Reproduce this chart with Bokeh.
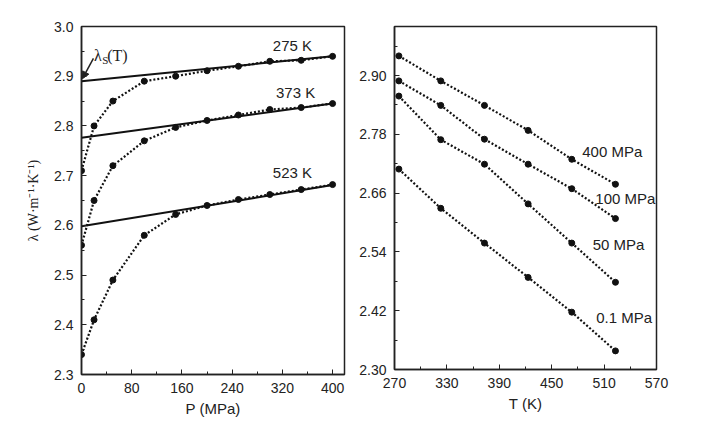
from bokeh.plotting import figure
from bokeh.layouts import row
from bokeh.models import FixedTicker, Range1d, Label, Arrow, NormalHead, NumeralTickFormatter
from bokeh.embed import file_html
from bokeh.resources import INLINE

# ---- data: left panel (lambda vs P) ----
P = [0, 20, 50, 100, 150, 200, 250, 300, 350, 400]
lam_275K = [2.71, 2.80, 2.85, 2.89, 2.90, 2.911, 2.92, 2.93, 2.932, 2.94]
lam_373K = [2.56, 2.65, 2.72, 2.77, 2.797, 2.811, 2.822, 2.833, 2.837, 2.845]
lam_523K = [2.34, 2.41, 2.49, 2.58, 2.622, 2.64, 2.652, 2.662, 2.672, 2.682]
fit_P = [0, 400]
fit_275K = [2.89, 2.94]
fit_373K = [2.776, 2.845]
fit_523K = [2.598, 2.681]
left_labels = ["275 K", "373 K", "523 K"]

# ---- data: right panel (lambda vs T) ----
T = [275, 323, 373, 423, 473, 523]
lam_400MPa = [2.94, 2.889, 2.839, 2.788, 2.729, 2.678]
lam_100MPa = [2.889, 2.839, 2.770, 2.719, 2.669, 2.608]
lam_50MPa = [2.858, 2.769, 2.719, 2.638, 2.558, 2.478]
lam_01MPa = [2.709, 2.629, 2.558, 2.488, 2.417, 2.338]
right_labels = ["400 MPa", "100 MPa", "50 MPa", "0.1 MPa"]

left_xticks = [0, 80, 160, 240, 320, 400]
left_yticks = [2.3, 2.4, 2.5, 2.6, 2.7, 2.8, 2.9, 3.0]
right_xticks = [270, 330, 390, 450, 510, 570]
right_yticks = [2.30, 2.42, 2.54, 2.66, 2.78, 2.90]

SANS = "Liberation Sans"
SERIF = "Liberation Serif"


def style(p):
    p.outline_line_color = "#222222"
    p.outline_line_width = 1.5
    p.grid.visible = False
    p.background_fill_color = "white"
    p.border_fill_color = "white"
    for ax in (p.xaxis, p.yaxis):
        ax.axis_line_width = 1.5
        ax.axis_line_color = "#222222"
        ax.major_tick_in = 5
        ax.major_tick_out = 0
        ax.minor_tick_in = 3
        ax.minor_tick_out = 0
        ax.major_tick_line_color = "#222222"
        ax.minor_tick_line_color = "#222222"
        ax.major_label_text_font = SANS
        ax.major_label_text_font_size = "14px"
        ax.major_label_text_color = "#222222"
        ax.major_label_standoff = 8
        ax.axis_label_text_font = SANS
        ax.axis_label_text_font_size = "15px"
        ax.axis_label_text_font_style = "normal"
        ax.axis_label_text_color = "#222222"


# ---------------- left figure ----------------
p1 = figure(frame_width=263, frame_height=348, output_backend="svg", toolbar_location=None,
            x_range=Range1d(0, 419), y_range=Range1d(2.3, 3.0),
            min_border_left=81, min_border_right=10, min_border_top=22, min_border_bottom=50)
style(p1)
p1.xaxis.ticker = FixedTicker(ticks=left_xticks, minor_ticks=list(range(0, 420, 40)))
p1.yaxis.ticker = FixedTicker(ticks=left_yticks,
                              minor_ticks=[round(2.3 + 0.05 * i, 2) for i in range(15)])
p1.yaxis.formatter = NumeralTickFormatter(format="0.0")
p1.xaxis.axis_label = "P (MPa)"
p1.xaxis.axis_label_standoff = 4
p1.yaxis.axis_label = "λ (W·m⁻¹·K⁻¹)"
p1.yaxis.axis_label_text_font = SERIF
p1.yaxis.axis_label_text_font_size = "14px"
p1.yaxis.axis_label_standoff = 10

for ys, fy in ((lam_275K, fit_275K), (lam_373K, fit_373K), (lam_523K, fit_523K)):
    p1.line(fit_P, fy, line_color="#111111", line_width=2)
    p1.line(P, ys, line_color="#111111", line_width=2.2, line_dash="2 2")
    p1.scatter(P, ys, size=6, color="#111111")

for txt, (x, y) in zip(left_labels, [(336, 2.962), (341, 2.867), (336, 2.706)]):
    p1.add_layout(Label(x=x, y=y, text=txt, text_font=SANS, text_font_size="15px",
                        text_color="#222222", text_align="center", text_baseline="middle"))

# lambda_S(T) annotation
p1.add_layout(Label(x=20, y=2.942, text="λ", text_font=SERIF, text_font_size="16px",
                    text_color="#222222", text_baseline="alphabetic"))
p1.add_layout(Label(x=33, y=2.933, text="S", text_font=SERIF, text_font_size="11px",
                    text_color="#222222", text_baseline="alphabetic"))
p1.add_layout(Label(x=41, y=2.942, text="(T)", text_font=SERIF, text_font_size="16px",
                    text_color="#222222", text_baseline="alphabetic"))
p1.add_layout(Arrow(x_start=19, y_start=2.936, x_end=1.5, y_end=2.895,
                    line_color="#222222", line_width=1.5,
                    end=NormalHead(size=7, fill_color="#222222", line_color="#222222")))

# ---------------- right figure ----------------
p2 = figure(frame_width=262, frame_height=343, output_backend="svg", toolbar_location=None,
            x_range=Range1d(270, 570), y_range=Range1d(2.30, 3.00),
            min_border_left=40, min_border_right=30, min_border_top=26, min_border_bottom=51)
style(p2)
p2.xaxis.ticker = FixedTicker(ticks=right_xticks, minor_ticks=list(range(270, 571, 30)))
p2.yaxis.ticker = FixedTicker(ticks=right_yticks,
                              minor_ticks=[round(2.30 + 0.06 * i, 2) for i in range(12)])
p2.yaxis.formatter = NumeralTickFormatter(format="0.00")
p2.xaxis.axis_label = "T (K)"
p2.xaxis.axis_label_standoff = 4

for ys in (lam_400MPa, lam_100MPa, lam_50MPa, lam_01MPa):
    p2.line(T, ys, line_color="#111111", line_width=2.2, line_dash="2 2")
    p2.scatter(T, ys, size=6, color="#111111")

for txt, (x, y) in zip(right_labels, [(485, 2.745), (500, 2.649), (497, 2.555), (501, 2.406)]):
    p2.add_layout(Label(x=x, y=y, text=txt, text_font=SANS, text_font_size="15px",
                        text_color="#222222", text_align="left", text_baseline="middle"))

layout = row(p1, p2)
open("out.html", "w").write(file_html(layout, INLINE))
